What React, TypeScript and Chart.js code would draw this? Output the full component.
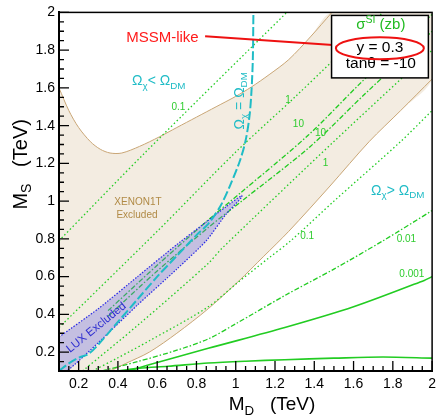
import React, { useEffect, useRef } from 'react';
import { Chart, registerables } from 'chart.js';

Chart.register(...registerables);

const FONT = '"Liberation Sans", Arial, Helvetica, sans-serif';

// ---- axis ticks ----
const xTickValues = [0.2, 0.4, 0.6, 0.8, 1.0, 1.2, 1.4, 1.6, 1.8, 2.0];
const xTickLabels = ['0.2', '0.4', '0.6', '0.8', '1', '1.2', '1.4', '1.6', '1.8', '2'];
const yTickValues = [0.2, 0.4, 0.6, 0.8, 1.0, 1.2, 1.4, 1.6, 1.8, 2.0];
const yTickLabels = ['0.2', '0.4', '0.6', '0.8', '1', '1.2', '1.4', '1.6', '1.8', '2'];

// ---- XENON1T excluded region ----
const xenonUpperX = [0.1, 0.15, 0.2, 0.26, 0.31, 0.36, 0.42, 0.51, 0.61, 0.7, 0.8, 0.9, 1.0, 1.08, 1.17, 1.27, 1.38, 1.49];
const xenonUpperY = [1.6, 1.48, 1.39, 1.315, 1.275, 1.255, 1.255, 1.29, 1.34, 1.39, 1.445, 1.5, 1.555, 1.605, 1.67, 1.75, 1.87, 2.0];
const xenonLowerX = [2.0, 1.84, 1.68, 1.48, 1.27, 1.14, 1.014, 0.86, 0.7, 0.56, 0.44, 0.36];
const xenonLowerY = [1.647, 1.48, 1.316, 1.08, 0.84, 0.705, 0.575, 0.43, 0.3, 0.2, 0.14, 0.1];

// ---- LUX excluded region ----
const luxUpperX = [0.1, 0.3, 0.5, 0.7, 0.85, 0.95, 1.03];
const luxUpperY = [0.28, 0.43, 0.6, 0.77, 0.89, 0.97, 1.03];
const luxLowerX = [1.03, 0.95, 0.85, 0.7, 0.5, 0.3, 0.14, 0.1];
const luxLowerY = [1.02, 0.93, 0.79, 0.64, 0.45, 0.25, 0.1, 0.1];

// ---- relic density line Omega_chi = Omega_DM ----
const relicX = [0.1, 0.15, 0.2, 0.25, 0.3, 0.4, 0.5, 0.6, 0.7, 0.8, 0.86, 0.92, 0.97, 1.02, 1.05, 1.07, 1.08, 1.087, 1.09];
const relicY = [0.1, 0.14, 0.17, 0.19, 0.24, 0.36, 0.48, 0.6, 0.71, 0.82, 0.88, 0.97, 1.08, 1.21, 1.32, 1.45, 1.58, 1.75, 2.0];

// ---- sigma_SI contours (upper-left branch) ----
const c01aX = [0.1, 0.544, 1.26];
const c01aY = [0.79, 1.263, 2.0];
const c1aX = [0.1, 0.6, 1.0, 1.3, 1.75];
const c1aY = [0.33, 0.84, 1.26, 1.55, 2.0];
const c10aX = [0.35, 0.6, 0.86, 1.02, 1.37, 1.63, 2.0];
const c10aY = [0.42, 0.66, 0.9, 1.04, 1.35, 1.62, 1.99];
// ---- sigma_SI contours (lower-right branch) ----
const c10bX = [0.35, 0.6, 0.86, 1.03, 1.38, 1.66, 2.0];
const c10bY = [0.39, 0.63, 0.86, 1.0, 1.29, 1.57, 1.9];
const c1bX = [0.22, 0.51, 0.86, 0.93, 1.5, 2.0];
const c1bY = [0.1, 0.35, 0.67, 0.75, 1.316, 1.8];
const c01bX = [0.27, 0.4, 0.56, 0.86, 1.0, 1.17, 1.28, 1.5, 1.84, 2.0];
const c01bY = [0.1, 0.17, 0.26, 0.44, 0.56, 0.7, 0.79, 1.0, 1.316, 1.48];
const c001X = [0.32, 0.5, 0.7, 0.86, 1.0, 1.25, 1.5, 1.75, 2.0];
const c001Y = [0.1, 0.15, 0.21, 0.27, 0.35, 0.5, 0.64, 0.79, 0.95];
const c0001X = [0.45, 0.55, 0.86, 1.25, 1.6, 1.96, 2.0];
const c0001Y = [0.1, 0.13, 0.22, 0.33, 0.44, 0.58, 0.6];
const cBottomX = [0.4, 0.51, 0.655, 0.86, 1.05, 1.25, 1.5, 1.75, 2.0];
const cBottomY = [0.1, 0.115, 0.125, 0.142, 0.152, 0.16, 0.168, 0.174, 0.168];

// ---- contour value labels ----
const contourLabels = ['0.1', '1', '10', '10', '1', '0.1', '0.01', '0.001'];
const contourLabelX = [0.708, 1.266, 1.319, 1.432, 1.457, 1.364, 1.869, 1.897];
const contourLabelY = [1.495, 1.532, 1.405, 1.358, 1.203, 0.816, 0.797, 0.613];

const pts = (xs: number[], ys: number[]) => xs.map((x, i) => ({ x, y: ys[i] }));

const GREEN = '#22cc22';
const CYAN = '#1fbcc6';
const DOT = [1.5, 2.5];
const DASHDOT = [5, 2, 1.5, 2];

type Seg = { t: string; s?: 'sub' | 'sup' };

function rich(
  ctx: CanvasRenderingContext2D,
  segs: Seg[],
  size: number,
  color: string,
  x: number,
  y: number,
  align: 'left' | 'center',
  rot = 0
) {
  const small = size * 0.7;
  const widths = segs.map((sg) => {
    ctx.font = `${sg.s ? small : size}px ${FONT}`;
    return ctx.measureText(sg.t).width;
  });
  const total = widths.reduce((a, b) => a + b, 0);
  ctx.save();
  ctx.translate(x, y);
  ctx.rotate(rot);
  ctx.textBaseline = 'middle';
  ctx.textAlign = 'left';
  ctx.fillStyle = color;
  let cx = align === 'center' ? -total / 2 : 0;
  segs.forEach((sg, i) => {
    ctx.font = `${sg.s ? small : size}px ${FONT}`;
    const dy = sg.s === 'sub' ? size * 0.32 : sg.s === 'sup' ? -size * 0.35 : 0;
    ctx.fillText(sg.t, cx, dy);
    cx += widths[i];
  });
  ctx.restore();
}

const overlay = {
  id: 'overlay',
  afterDatasetsDraw(chart: any) {
    const { ctx, chartArea: a, scales } = chart;
    const X = (v: number) => scales.x.getPixelForValue(v);
    const Y = (v: number) => scales.y.getPixelForValue(v);
    ctx.save();

    // contour value labels
    ctx.font = `10px ${FONT}`;
    ctx.fillStyle = '#2ecc2e';
    ctx.textAlign = 'center';
    ctx.textBaseline = 'middle';
    contourLabels.forEach((t, i) => ctx.fillText(t, X(contourLabelX[i]), Y(contourLabelY[i])));

    // XENON1T label
    ctx.fillStyle = '#b08a45';
    ctx.font = `10px ${FONT}`;
    ctx.fillText('XENON1T', X(0.502), Y(0.995));
    ctx.fillText('Excluded', X(0.497), Y(0.926));

    // LUX label
    ctx.save();
    ctx.translate(X(0.29), Y(0.33));
    ctx.rotate((-39 * Math.PI) / 180);
    ctx.fillStyle = '#3030d0';
    ctx.font = `11.5px ${FONT}`;
    ctx.fillText('LUX Excluded', 0, 0);
    ctx.restore();

    // Omega labels
    rich(ctx, [{ t: 'Ω' }, { t: 'χ', s: 'sub' }, { t: '< Ω' }, { t: 'DM', s: 'sub' }], 14, CYAN, X(0.472), Y(1.634), 'left');
    rich(ctx, [{ t: 'Ω' }, { t: 'χ', s: 'sub' }, { t: '> Ω' }, { t: 'DM', s: 'sub' }], 14, CYAN, X(1.689), Y(1.053), 'left');
    rich(ctx, [{ t: 'Ω' }, { t: 'χ', s: 'sub' }, { t: ' = Ω' }, { t: 'DM', s: 'sub' }], 14, CYAN, X(1.0226), Y(1.5316), 'center', -Math.PI / 2);

    // MSSM-like annotation
    ctx.fillStyle = '#ff1a1a';
    ctx.font = `15px ${FONT}`;
    ctx.textAlign = 'left';
    ctx.fillText('MSSM-like', X(0.442), Y(1.863));
    ctx.strokeStyle = '#ee1111';
    ctx.lineWidth = 2;
    ctx.beginPath();
    ctx.moveTo(X(0.844), Y(1.874));
    ctx.lineTo(X(1.513), Y(1.826));
    ctx.stroke();

    // legend box
    const bx0 = X(1.488), by0 = Y(1.984), bx1 = X(1.981), by1 = Y(1.653);
    ctx.fillStyle = '#ffffff';
    ctx.fillRect(bx0, by0, bx1 - bx0, by1 - by0);
    ctx.strokeStyle = '#000';
    ctx.lineWidth = 1.5;
    ctx.strokeRect(bx0, by0, bx1 - bx0, by1 - by0);
    rich(ctx, [{ t: 'σ' }, { t: 'SI', s: 'sup' }, { t: ' (zb)' }], 15, '#22bb22', X(1.739), Y(1.932), 'center');
    rich(ctx, [{ t: 'y = 0.3' }], 15.5, '#000', X(1.734), Y(1.814), 'center');
    rich(ctx, [{ t: 'tanθ = -10' }], 15.5, '#000', X(1.739), Y(1.726), 'center');
    ctx.strokeStyle = '#ee1111';
    ctx.lineWidth = 2;
    ctx.beginPath();
    ctx.ellipse(X(1.734), Y(1.81), 44, 11, 0, 0, Math.PI * 2);
    ctx.stroke();

    // frame
    ctx.strokeStyle = '#000';
    ctx.lineWidth = 1.5;
    ctx.strokeRect(a.left, a.top, a.right - a.left, a.bottom - a.top);
    ctx.lineWidth = 2;
    ctx.beginPath();
    ctx.moveTo(a.left, a.top);
    ctx.lineTo(a.left, a.bottom);
    ctx.lineTo(a.right, a.bottom);
    ctx.stroke();

    // inward ticks
    ctx.lineWidth = 1.3;
    ctx.beginPath();
    for (let i = 3; i <= 40; i++) {
      const v = i * 0.05;
      const len = i % 4 === 0 ? 10 : 5;
      const xp = X(v);
      ctx.moveTo(xp, a.bottom);
      ctx.lineTo(xp, a.bottom - len);
      const yp = Y(v);
      ctx.moveTo(a.left, yp);
      ctx.lineTo(a.left + len, yp);
    }
    ctx.stroke();

    // axis titles
    rich(ctx, [{ t: 'M' }, { t: 'D', s: 'sub' }, { t: '   (TeV)' }], 19, '#000', X(0.1) + 213, a.bottom + 34, 'center');
    rich(ctx, [{ t: 'M' }, { t: 'S', s: 'sub' }, { t: '   (TeV)' }], 20, '#000', 21, Y(1.195), 'center', -Math.PI / 2);

    ctx.restore();
  },
};

export default function App() {
  const ref = useRef<HTMLCanvasElement | null>(null);

  useEffect(() => {
    if (!ref.current) return;
    const line = (xs: number[], ys: number[], color: string, width: number, dash: number[]) => ({
      data: pts(xs, ys),
      showLine: true,
      pointRadius: 0,
      borderColor: color,
      borderWidth: width,
      borderDash: dash,
      tension: 0.3,
      fill: false,
    });

    const xenonPoly = pts(
      [...xenonUpperX, 2.0, ...xenonLowerX, 0.1, 0.1],
      [...xenonUpperY, 2.0, ...xenonLowerY, 0.1, xenonUpperY[0]]
    );
    const luxPoly = pts([...luxUpperX, ...luxLowerX, luxUpperX[0]], [...luxUpperY, ...luxLowerY, luxUpperY[0]]);

    const datasets: any[] = [
      line(relicX, relicY, CYAN, 2, [9, 3]),
      {
        data: luxPoly,
        showLine: true,
        pointRadius: 0,
        borderColor: '#2a2ae6',
        borderWidth: 1.2,
        borderDash: [1.5, 1.5],
        backgroundColor: 'rgba(105,105,225,0.34)',
        fill: 'shape',
        tension: 0.2,
      },
      line(c10aX, c10aY, GREEN, 1.3, DASHDOT),
      line(c10bX, c10bY, GREEN, 1.3, DASHDOT),
      line(c01aX, c01aY, GREEN, 1.3, DOT),
      line(c1aX, c1aY, GREEN, 1.3, DOT),
      line(c1bX, c1bY, GREEN, 1.3, DOT),
      line(c01bX, c01bY, GREEN, 1.3, DOT),
      line(c001X, c001Y, GREEN, 1.3, DASHDOT),
      line(c0001X, c0001Y, GREEN, 1.6, []),
      line(cBottomX, cBottomY, GREEN, 1.6, []),
      line(xenonUpperX, xenonUpperY, '#c9a676', 1, []),
      line(xenonLowerX, xenonLowerY, '#c9a676', 1, []),
      {
        data: xenonPoly,
        showLine: true,
        pointRadius: 0,
        borderWidth: 0,
        borderColor: 'rgba(0,0,0,0)',
        backgroundColor: '#f3ece1',
        fill: 'shape',
        tension: 0.3,
      },
    ];

    const chart = new Chart(ref.current, {
      type: 'scatter',
      data: { datasets },
      plugins: [overlay],
      options: {
        responsive: false,
        animation: false,
        events: [],
        layout: { padding: { top: 10, right: 4, left: 0, bottom: 0 } },
        plugins: { legend: { display: false }, tooltip: { enabled: false } },
        scales: {
          x: {
            type: 'linear',
            min: 0.1,
            max: 2,
            afterBuildTicks: (s: any) => {
              s.ticks = xTickValues.map((v) => ({ value: v }));
            },
            afterFit: (s: any) => {
              s.height = 48;
            },
            grid: { display: false, drawTicks: false },
            border: { display: true, color: '#000', width: 2 },
            ticks: {
              autoSkip: false,
              maxRotation: 0,
              padding: 5,
              color: '#000',
              font: { family: FONT, size: 14 },
              callback: (_v: any, i: number) => xTickLabels[i] ?? '',
            },
          },
          y: {
            type: 'linear',
            min: 0.1,
            max: 2,
            afterBuildTicks: (s: any) => {
              s.ticks = yTickValues.map((v) => ({ value: v }));
            },
            afterFit: (s: any) => {
              s.width = 59;
            },
            grid: { display: false, drawTicks: false },
            border: { display: true, color: '#000', width: 2 },
            ticks: {
              autoSkip: false,
              padding: 4,
              color: '#000',
              font: { family: FONT, size: 14 },
              callback: (_v: any, i: number) => yTickLabels[i] ?? '',
            },
          },
        },
      },
    });
    return () => chart.destroy();
  }, []);

  return (
    <div style={{ position: 'absolute', left: 0, top: 0, width: 441, height: 419, background: '#fff' }}>
      <canvas ref={ref} width={441} height={419} style={{ display: 'block', width: 441, height: 419 }} />
    </div>
  );
}
